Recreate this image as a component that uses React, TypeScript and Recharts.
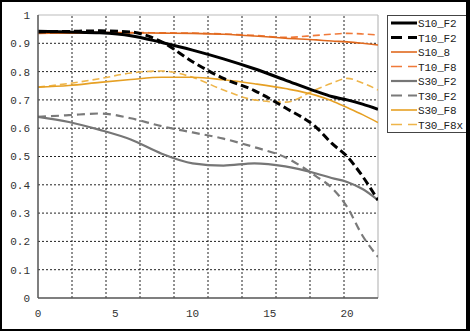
import React from "react";
import { LineChart, Line, XAxis, YAxis, ReferenceLine } from "recharts";

const X_VALUES = [0, 2, 4, 6, 8, 10, 12, 14, 16, 18, 19, 20, 21, 22];
const S10_F2 = [0.943, 0.94, 0.937, 0.927, 0.903, 0.876, 0.845, 0.81, 0.77, 0.73, 0.712, 0.7, 0.685, 0.667];
const T10_F2 = [0.94, 0.942, 0.944, 0.94, 0.905, 0.835, 0.776, 0.733, 0.672, 0.603, 0.547, 0.5, 0.43, 0.346];
const S10_8 = [0.935, 0.936, 0.937, 0.937, 0.936, 0.935, 0.932, 0.926, 0.918, 0.912, 0.908, 0.905, 0.9, 0.894];
const T10_F8 = [0.937, 0.937, 0.938, 0.938, 0.937, 0.936, 0.933, 0.928, 0.921, 0.928, 0.932, 0.935, 0.933, 0.929];
const S30_F2 = [0.64, 0.622, 0.594, 0.56, 0.51, 0.476, 0.468, 0.476, 0.465, 0.44, 0.424, 0.41, 0.385, 0.346];
const T30_F2 = [0.64, 0.646, 0.652, 0.635, 0.607, 0.585, 0.563, 0.533, 0.497, 0.43, 0.39, 0.322, 0.22, 0.145];
const S30_F8 = [0.745, 0.751, 0.762, 0.772, 0.78, 0.78, 0.771, 0.757, 0.74, 0.716, 0.697, 0.673, 0.648, 0.62];
const T30_F8x = [0.745, 0.758, 0.775, 0.795, 0.802, 0.78, 0.735, 0.7, 0.692, 0.737, 0.759, 0.776, 0.76, 0.735];

const X_TICKS = [0, 5, 10, 15, 20];
const Y_TICKS = [0, 0.1, 0.2, 0.3, 0.4, 0.5, 0.6, 0.7, 0.8, 0.9, 1];
const X_GRID = [2.2, 4.4, 6.6, 8.8, 11, 13.2, 15.4, 17.6, 19.8];
const Y_GRID = [0.1, 0.2, 0.3, 0.4, 0.5, 0.6, 0.7, 0.8, 0.9];

const SERIES = [
  { key: "S10_F2", values: S10_F2, color: "#000000", width: 3, dash: undefined as string | undefined },
  { key: "T10_F2", values: T10_F2, color: "#000000", width: 3, dash: "8 4" },
  { key: "S10_8", values: S10_8, color: "#e0691e", width: 1.6, dash: undefined },
  { key: "T10_F8", values: T10_F8, color: "#f07a3a", width: 1.6, dash: "7 4" },
  { key: "S30_F2", values: S30_F2, color: "#767676", width: 2.2, dash: undefined },
  { key: "T30_F2", values: T30_F2, color: "#7a7a7a", width: 2.2, dash: "8 5" },
  { key: "S30_F8", values: S30_F8, color: "#e6a024", width: 1.6, dash: undefined },
  { key: "T30_F8x", values: T30_F8x, color: "#eeb54a", width: 1.6, dash: "7 4" },
];

const DRAW_ORDER = ["T30_F8x", "S30_F8", "T10_F8", "S10_8", "T30_F2", "S30_F2", "T10_F2", "S10_F2"];

const data = X_VALUES.map((x, i) => {
  const row: Record<string, number> = { x };
  SERIES.forEach((s) => {
    row[s.key] = s.values[i];
  });
  return row;
});

const FONT = "'Liberation Mono', 'DejaVu Sans Mono', monospace";

const yFmt = (v: number) => (v === 0 ? "0" : v === 1 ? "1" : v.toFixed(1));

function LegendBox() {
  const rowH = 14.5;
  return (
    <div
      style={{
        position: "absolute",
        left: 387,
        top: 15,
        width: 80,
        height: 118,
        boxSizing: "border-box",
        border: "1.5px solid #444",
        background: "#fff",
      }}
    >
      <svg width={77} height={115} style={{ display: "block" }}>
        {SERIES.map((s, i) => {
          const y = 7 + i * rowH;
          return (
            <g key={s.key}>
              <line
                x1={3}
                x2={29}
                y1={y}
                y2={y}
                stroke={s.color}
                strokeWidth={s.width}
                strokeDasharray={s.dash ? "11 6" : undefined}
              />
              <text
                x={30}
                y={y + 4}
                fontFamily={FONT}
                fontSize={11}
                letterSpacing={-0.2}
                fill="#222"
              >
                {s.key}
              </text>
            </g>
          );
        })}
      </svg>
    </div>
  );
}

export default function App() {
  return (
    <div
      style={{
        position: "absolute",
        left: 0,
        top: 0,
        width: 470,
        height: 331,
        background: "#fff",
        overflow: "hidden",
      }}
    >
      <LineChart
        width={470}
        height={331}
        data={data}
        margin={{ top: 15, right: 92, bottom: 13, left: 0 }}
        style={{ position: "absolute", left: 0, top: 0 }}
      >
        <XAxis
          dataKey="x"
          type="number"
          domain={[0, 22]}
          ticks={X_TICKS}
          height={20}
          tickLine={false}
          tickMargin={5}
          axisLine={{ stroke: "#555", strokeWidth: 1.5 }}
          tick={{ fontFamily: FONT, fontSize: 11, fill: "#333" }}
          allowDataOverflow
        />
        <YAxis
          type="number"
          domain={[0, 1]}
          ticks={Y_TICKS}
          width={38}
          tickLine={false}
          tickFormatter={yFmt}
          axisLine={{ stroke: "#555", strokeWidth: 1.5 }}
          tick={{ fontFamily: FONT, fontSize: 11, fill: "#333" }}
          allowDataOverflow
        />
        {Y_GRID.map((v) => (
          <ReferenceLine key={"y" + v} y={v} stroke="#222" strokeWidth={1} strokeDasharray="2 2" />
        ))}
        {X_GRID.map((v) => (
          <ReferenceLine key={"x" + v} x={v} stroke="#222" strokeWidth={1} strokeDasharray="2 2" />
        ))}
        <ReferenceLine y={1} stroke="#bbb" strokeWidth={1.2} />
        <ReferenceLine x={22} stroke="#bbb" strokeWidth={1.2} />
        {DRAW_ORDER.map((k) => {
          const s = SERIES.find((q) => q.key === k)!;
          return (
            <Line
              key={s.key}
              dataKey={s.key}
              type="monotone"
              stroke={s.color}
              strokeWidth={s.width}
              strokeDasharray={s.dash}
              dot={false}
              activeDot={false}
              isAnimationActive={false}
            />
          );
        })}
      </LineChart>
      <LegendBox />
      <div
        style={{
          position: "absolute",
          left: 0,
          top: 0,
          width: 470,
          height: 331,
          boxSizing: "border-box",
          borderTop: "2px solid #000",
          borderLeft: "2px solid #000",
          borderRight: "4px solid #000",
          borderBottom: "2px solid #000",
          pointerEvents: "none",
        }}
      />
    </div>
  );
}
